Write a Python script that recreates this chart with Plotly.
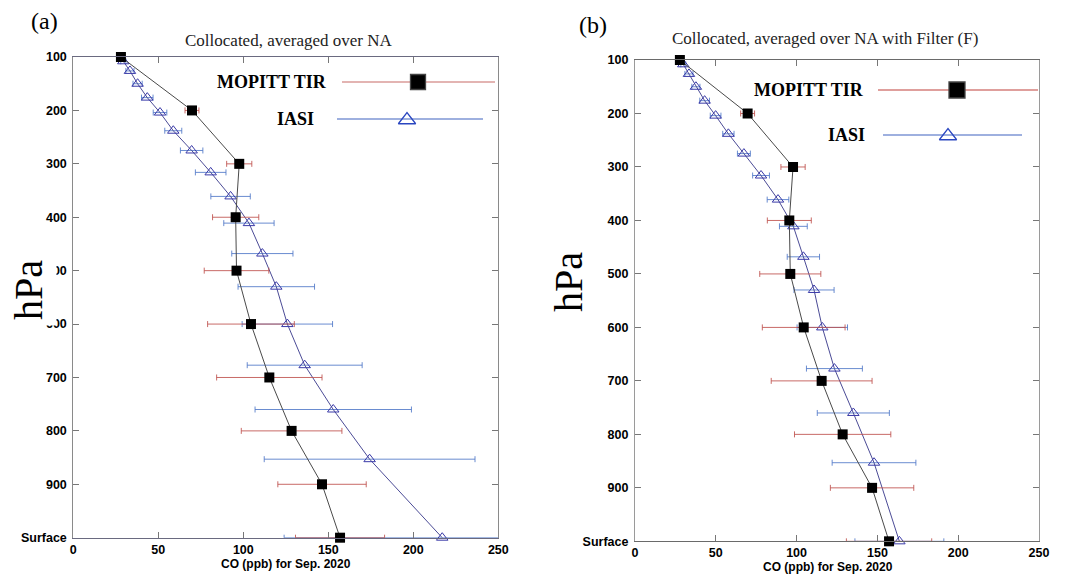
import plotly.graph_objects as go

# ---------------- data ----------------
pressure_tick_vals = [100, 200, 300, 400, 500, 600, 700, 800, 900, 1000]
pressure_tick_text = ["100", "200", "300", "400", "500", "600", "700", "800", "900", "Surface"]
co_tick_vals = [0, 50, 100, 150, 200, 250]

mopitt_p = [100, 200, 300, 400, 500, 600, 700, 800, 900, 1000]

# panel (a)
mopitt_a = [28.0, 69.8, 97.6, 95.5, 96.0, 104.5, 115.3, 128.4, 146.3, 156.9]
mopitt_a_err = [1.5, 4.1, 7.4, 13.6, 19.0, 25.5, 31.0, 29.6, 26.0, 26.2]
iasi_p = [108, 126, 150, 176, 204, 238, 275, 316, 361, 411, 468, 530, 600, 677, 760, 853, 1000]
iasi_a = [29.4, 33.3, 37.8, 43.5, 51.0, 58.8, 69.6, 80.8, 92.5, 103.3, 111.2, 119.4, 125.9, 136.1, 152.9, 174.3, 217.0]
iasi_a_err = [1.5, 2.4, 2.7, 3.4, 4.0, 5.0, 6.6, 9.0, 11.6, 14.8, 18.0, 22.5, 26.6, 33.8, 46.0, 62.0, 93.0]

# panel (b)
mopitt_b = [27.8, 69.7, 97.8, 95.5, 96.1, 104.4, 115.5, 128.5, 146.7, 157.2]
mopitt_b_err = [1.5, 4.3, 7.5, 13.6, 18.9, 25.6, 31.2, 29.8, 25.8, 26.4]
iasi_b = [29.9, 33.4, 37.7, 43.1, 49.9, 57.8, 67.4, 78.0, 88.5, 98.0, 104.2, 110.8, 115.9, 123.4, 135.1, 147.9, 163.6]
iasi_b_err = [1.5, 2.5, 2.5, 3.0, 3.3, 3.5, 4.0, 5.2, 6.7, 8.6, 10.0, 12.4, 15.6, 17.3, 22.3, 25.9, 27.5]

series_names = ["MOPITT TIR", "IASI"]
titles = ["Collocated, averaged over NA", "Collocated, averaged over NA with Filter (F)"]
panel_labels = ["(a)", "(b)"]
x_title = "CO (ppb) for Sep. 2020"
y_title = "hPa"

# ---------------- style ----------------
MOP_LINE = "#4a4a4a"
MOP_ERR = "rgba(190,80,75,0.85)"
IASI_LINE = "#4b4b96"
IASI_ERR = "rgba(80,120,200,0.85)"
SERIF = "Liberation Serif, Times New Roman, serif"
SANS = "Liberation Sans, Arial, sans-serif"

fig = go.Figure()

panels = [
    dict(x="x", y="y", mop=mopitt_a, mop_err=mopitt_a_err, iasi=iasi_a, iasi_err=iasi_a_err),
    dict(x="x2", y="y2", mop=mopitt_b, mop_err=mopitt_b_err, iasi=iasi_b, iasi_err=iasi_b_err),
]

for pn in panels:
    fig.add_trace(go.Scatter(
        x=pn["iasi"], y=iasi_p, xaxis=pn["x"], yaxis=pn["y"], mode="lines+markers",
        line=dict(color=IASI_LINE, width=1),
        marker=dict(symbol="triangle-up-open", size=10, color="#3a3aa8", line=dict(width=1)),
        error_x=dict(type="data", array=pn["iasi_err"], color=IASI_ERR, thickness=1, width=3),
        showlegend=False, cliponaxis=False))
    fig.add_trace(go.Scatter(
        x=pn["mop"], y=mopitt_p, xaxis=pn["x"], yaxis=pn["y"], mode="lines+markers",
        line=dict(color=MOP_LINE, width=1),
        marker=dict(symbol="square", size=10, color="black"),
        error_x=dict(type="data", array=pn["mop_err"], color=MOP_ERR, thickness=1, width=3),
        showlegend=False, cliponaxis=False))

# ---------------- legend keys (drawn in a pixel overlay axis) ----------------
legend_keys = [
    dict(name=series_names[0], x0=342, x1=495, y=82, mx=418, my=82, tx=329, sym="square", col=MOP_ERR, mcol="black", size=15),
    dict(name=series_names[1], x0=337, x1=483, y=119, mx=407, my=120, tx=316, sym="triangle-up-open", col="#3f63c0", mcol="#2a46c0", size=15),
    dict(name=series_names[0], x0=878, x1=1038, y=90, mx=957, my=90, tx=866, sym="square", col="#c0403a", mcol="black", size=16),
    dict(name=series_names[1], x0=883, x1=1022, y=135, mx=948, my=136, tx=867, sym="triangle-up-open", col="#3f63c0", mcol="#2a46c0", size=15),
]
for k in legend_keys:
    fig.add_trace(go.Scatter(x=[k["x0"], k["x1"]], y=[k["y"], k["y"]], xaxis="x3", yaxis="y3",
                             mode="lines", line=dict(color=k["col"], width=1.2),
                             showlegend=False, hoverinfo="skip"))
    fig.add_trace(go.Scatter(x=[k["mx"]], y=[k["my"]], xaxis="x3", yaxis="y3", mode="markers",
                             marker=dict(symbol=k["sym"], size=k["size"], color=k["mcol"], line=dict(width=1.3)),
                             showlegend=False, hoverinfo="skip", cliponaxis=False))
    fig.add_annotation(x=k["tx"], y=k["y"], xref="x3", yref="y3", text=k["name"], showarrow=False,
                       xanchor="right", yanchor="middle",
                       font=dict(family=SERIF, size=18, color="black", weight="bold"))

axis_common = dict(showgrid=False, zeroline=False, showline=True, mirror="ticks",
                   ticks="inside", ticklen=6, tickwidth=1, automargin=False,
                   tickfont=dict(family=SANS, size=12.5, color="black", weight="bold"))

fig.update_layout(
    width=1088, height=576,
    margin=dict(l=0, r=0, t=0, b=0, pad=0),
    paper_bgcolor="white", plot_bgcolor="rgba(0,0,0,0)",
    xaxis=dict(domain=[0.0674, 0.458], range=[0, 250], tickvals=co_tick_vals, anchor="y",
               linecolor="#6a6a80", tickcolor="#777", **axis_common),
    yaxis=dict(domain=[0.0665, 0.901], range=[1000, 100], tickvals=pressure_tick_vals,
               ticktext=pressure_tick_text, anchor="x", linecolor="#8a8a8a", tickcolor="#777",
               ticklabelstandoff=3, **axis_common),
    xaxis2=dict(domain=[0.5836, 0.955], range=[0, 250], tickvals=co_tick_vals, anchor="y2",
                linecolor="#6a6a6a", tickcolor="#777", **axis_common),
    yaxis2=dict(domain=[0.0602, 0.8958], range=[1000, 100], tickvals=pressure_tick_vals,
                ticktext=pressure_tick_text, anchor="x2", linecolor="#9a9a9a", tickcolor="#777",
                ticklabelstandoff=3, **axis_common),
    xaxis3=dict(domain=[0, 1], range=[0, 1088], visible=False, anchor="y3", fixedrange=True, automargin=False),
    yaxis3=dict(domain=[0, 1], range=[576, 0], visible=False, anchor="x3", fixedrange=True, automargin=False),
)

# titles, panel labels, axis titles
fig.add_annotation(x=288, y=40, xref="x3", yref="y3", text=titles[0], showarrow=False,
                   font=dict(family=SERIF, size=17, color="#222"))
fig.add_annotation(x=825, y=38, xref="x3", yref="y3", text=titles[1], showarrow=False,
                   font=dict(family=SERIF, size=17, color="#222"))
fig.add_annotation(x=44, y=21, xref="x3", yref="y3", text=panel_labels[0], showarrow=False,
                   font=dict(family=SERIF, size=24, color="black"))
fig.add_annotation(x=593, y=25, xref="x3", yref="y3", text=panel_labels[1], showarrow=False,
                   font=dict(family=SERIF, size=24, color="black"))
fig.add_annotation(x=286, y=564, xref="x3", yref="y3", text=x_title, showarrow=False,
                   font=dict(family=SANS, size=12, color="black", weight="bold"))
fig.add_annotation(x=828, y=567, xref="x3", yref="y3", text=x_title, showarrow=False,
                   font=dict(family=SANS, size=12, color="black", weight="bold"))
fig.add_annotation(x=28, y=290, xref="x3", yref="y3", text=y_title, showarrow=False, textangle=-90,
                   bgcolor="white", borderpad=5,
                   font=dict(family=SERIF, size=40, color="black"))
fig.add_annotation(x=568, y=282, xref="x3", yref="y3", text=y_title, showarrow=False, textangle=-90,
                   font=dict(family=SERIF, size=40, color="black"))

fig.write_html("out.html", config={"displayModeBar": False},
               post_script="document.body.style.margin='0px';document.body.style.overflow='hidden';")
